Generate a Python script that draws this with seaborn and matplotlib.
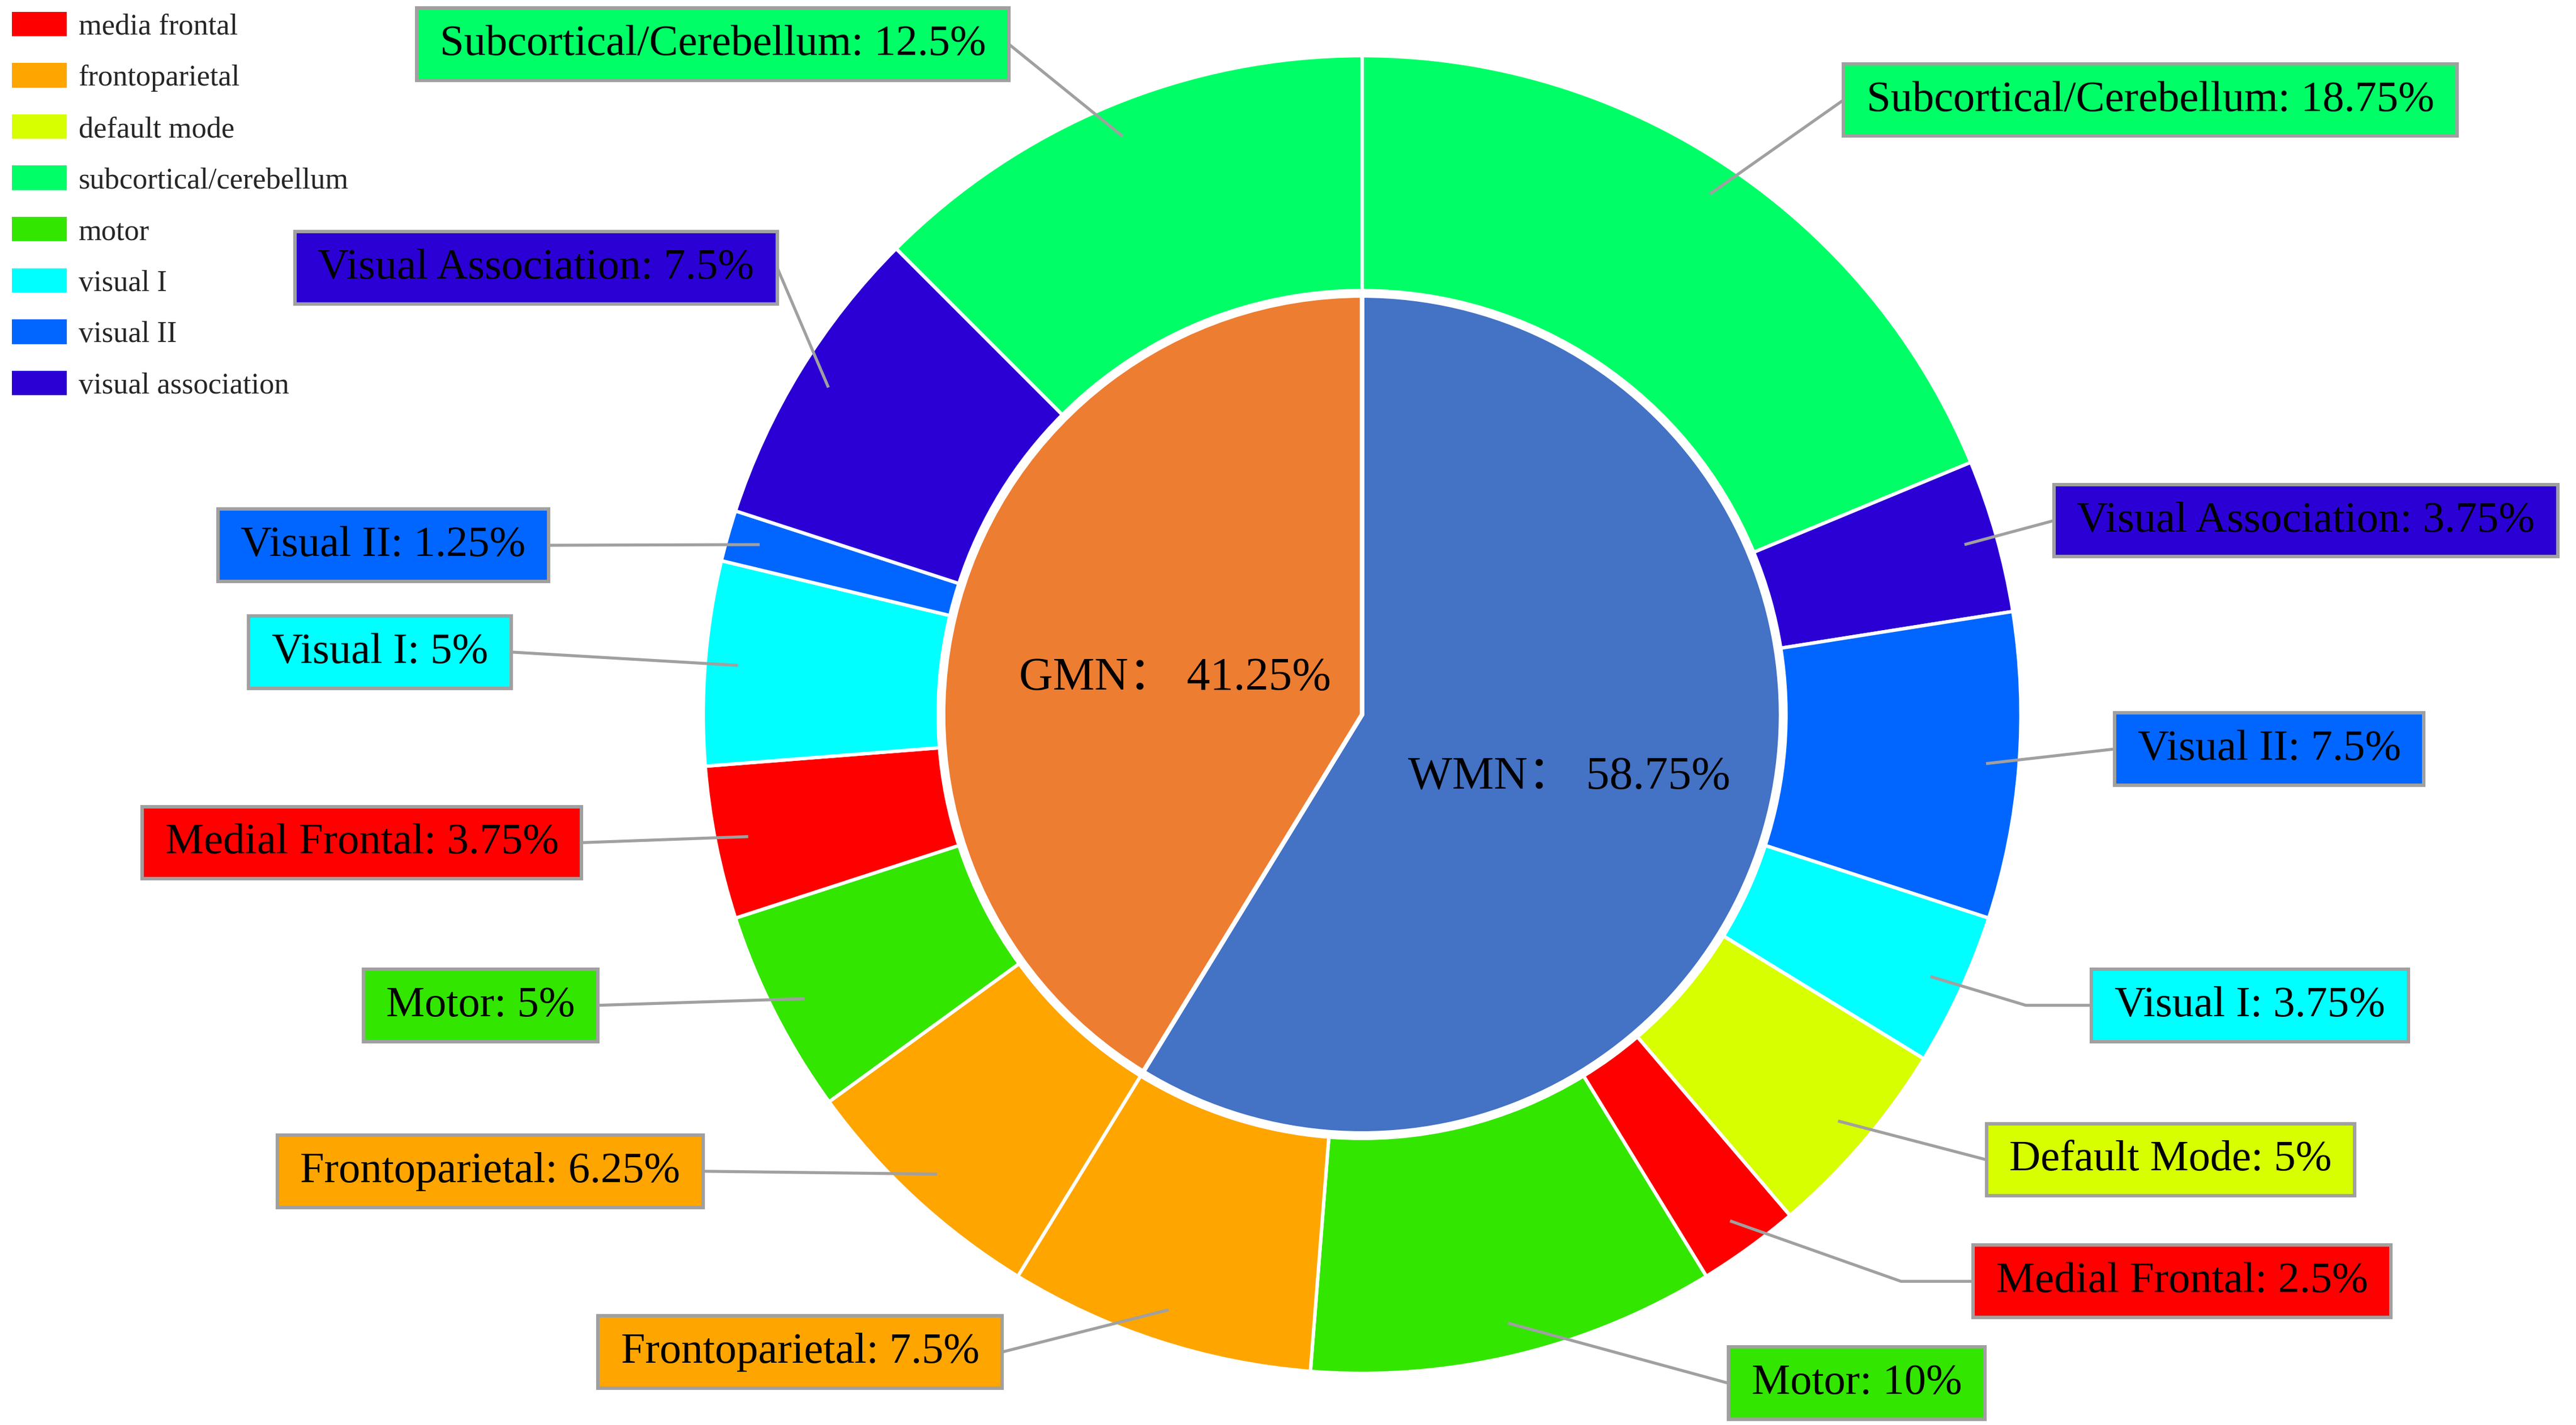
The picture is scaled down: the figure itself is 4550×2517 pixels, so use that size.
import numpy as np
import matplotlib.pyplot as plt
from matplotlib.patches import Patch, Rectangle
import seaborn as sns

# ---- data ----
inner_labels = ['WMN', 'GMN']
inner_values = [58.75, 41.25]

outer_labels = ['Subcortical/Cerebellum', 'Visual Association', 'Visual II', 'Visual I',
                'Default Mode', 'Medial Frontal', 'Motor', 'Frontoparietal',
                'Frontoparietal', 'Motor', 'Medial Frontal', 'Visual I',
                'Visual II', 'Visual Association', 'Subcortical/Cerebellum']
outer_values = [18.75, 3.75, 7.5, 3.75, 5, 2.5, 10, 7.5,
                6.25, 5, 3.75, 5, 1.25, 7.5, 12.5]

networks = ['Medial Frontal', 'Frontoparietal', 'Default Mode', 'Subcortical/Cerebellum',
            'Motor', 'Visual I', 'Visual II', 'Visual Association']
legend_labels = ['media frontal', 'frontoparietal', 'default mode', 'subcortical/cerebellum',
                 'motor', 'visual I', 'visual II', 'visual association']

# ---- styles / layout ----
net_pal = sns.color_palette(['#FF0000', '#FFA500', '#D7FF00', '#00FF66',
                             '#33E600', '#00FFFF', '#0066FF', '#2B00D4'])
net_colors = dict(zip(networks, net_pal))
inner_colors = ['#4472C4', '#ED7D31']

# label boxes: anchor x (near edge), centre y (reference px, y down), side
box_anchor = [(1122, 61, 'L'), (1250, 317, 'L'), (1287, 456, 'L'), (1273, 612, 'L'),
              (1209, 706, 'L'), (1201, 780, 'L'), (1052, 842, 'L'), (610, 823, 'R'),
              (428, 713, 'R'), (364, 612, 'R'), (354, 513, 'R'), (311, 397, 'R'),
              (334, 332, 'R'), (473, 163, 'R'), (614, 27, 'R')]
elbow = [0, 0, 0, 40, 0, 44, 0, 0, 0, 0, 0, 0, 0, 0, 0]
inner_offsets = [(0.314, -0.095), (-0.284, 0.055)]

sns.set_theme(style='white')
plt.rcParams['font.family'] = ['Liberation Serif', 'Noto Sans CJK SC']

DPI = 290
W = 1568
H = W * 2517 / 4550
fig = plt.figure(figsize=(4550.5 / DPI, 2517.5 / DPI), dpi=DPI)
ax = fig.add_axes([0, 0, 1, 1])

cx, cy = 829, H - 435
R_out, R_in = 401, 255

wedges, _ = ax.pie(outer_values, radius=R_out, center=(cx, cy), startangle=90,
                   counterclock=False, colors=[net_colors[n] for n in outer_labels],
                   wedgeprops=dict(width=R_out - 258, edgecolor='white', linewidth=1.5))
ax.pie(inner_values, radius=R_in, center=(cx, cy), startangle=90, counterclock=False,
       colors=inner_colors, wedgeprops=dict(edgecolor='white', linewidth=2))

ax.set_xlim(0, W)
ax.set_ylim(0, H)
ax.set_aspect('equal')
ax.axis('off')

for lab, val, (dx, dy) in zip(inner_labels, inner_values, inner_offsets):
    ax.text(cx + dx * R_out, cy + dy * R_out, f'{lab}： {val:g}%', fontsize=20.5,
            ha='center', va='center', color='black', zorder=6)

padx, bh = 14, 44
texts = []
for lab, val, (bx, by, side) in zip(outer_labels, outer_values, box_anchor):
    yc = H - by
    if side == 'L':
        t = ax.text(bx + padx, yc, f'{lab}: {val:g}%', ha='left', va='center',
                    fontsize=19, color='black', zorder=6)
    else:
        t = ax.text(bx - padx, yc, f'{lab}: {val:g}%', ha='right', va='center',
                    fontsize=19, color='black', zorder=6)
    texts.append(t)

fig.canvas.draw()
inv = ax.transData.inverted()
for w, t, lab, (bx, by, side), el in zip(wedges, texts, outer_labels, box_anchor, elbow):
    yc = H - by
    bb = t.get_window_extent().transformed(inv)
    x0, x1 = bb.x0 - padx, bb.x1 + padx
    ax.add_patch(Rectangle((x0, yc - bh / 2), x1 - x0, bh, facecolor=net_colors[lab],
                           edgecolor='#A0A0A0', linewidth=1.5, zorder=5))
    mid = np.deg2rad((w.theta1 + w.theta2) / 2)
    sx, sy = cx + 0.95 * R_out * np.cos(mid), cy + 0.95 * R_out * np.sin(mid)
    ex = x0 if side == 'L' else x1
    xs, ys = [sx], [sy]
    if el:
        xs.append(ex - el if side == 'L' else ex + el)
        ys.append(yc)
    xs.append(ex)
    ys.append(yc)
    ax.plot(xs, ys, color='#A0A0A0', linewidth=1.3, zorder=4, solid_capstyle='butt')

handles = [Patch(facecolor=net_colors[n], edgecolor='none', label=l)
           for n, l in zip(networks, legend_labels)]
ax.legend(handles=handles, loc='upper left', bbox_to_anchor=(0.0, 1.0), frameon=False,
          fontsize=13, handlelength=1.85, handleheight=0.9, handletextpad=0.4,
          labelspacing=0.76, borderaxespad=0.1, borderpad=0.3)

fig.savefig('out.png', dpi=DPI)
